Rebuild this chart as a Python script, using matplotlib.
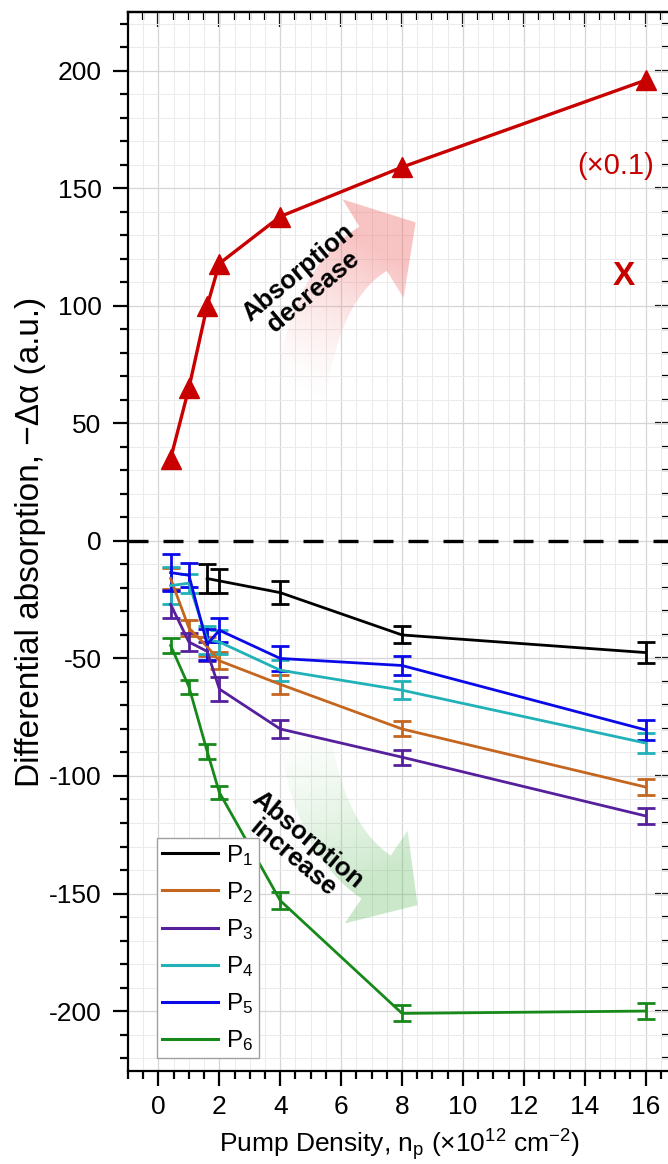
import numpy as np
import matplotlib
matplotlib.use('Agg')
import matplotlib.pyplot as plt
from matplotlib.ticker import MultipleLocator
from matplotlib.patches import Polygon
from matplotlib.lines import Line2D
from matplotlib.colors import to_rgb

plt.rcParams['font.family'] = ['Liberation Sans', 'DejaVu Sans']
plt.rcParams['mathtext.default'] = 'regular'
plt.rcParams['axes.unicode_minus'] = False

# pump densities (x1e12 cm^-2)
density = [0.4, 1, 1.6, 2, 4, 8, 16]
density_p1 = [1.6, 2, 4, 8, 16]

# peak X, scaled by 0.1
peak_x = [35, 65, 100, 118, 138, 159, 196]

# peaks P1..P6 with error bars
p1 = [-16, -17, -22, -40, -47.5]
p1_err = [6, 5, 5, 3.6, 4.4]
p2 = [-16, -37, -45, -51, -61, -80, -104.7]
p2_err = [4.3, 3.5, 4, 3.6, 4, 3.2, 3.4]
p3 = [-27, -43, -47, -63, -80, -92, -117]
p3_err = [6, 4, 4, 5, 4, 3.2, 3.5]
p4 = [-19, -18, -42, -43, -55, -63.5, -86]
p4_err = [8, 4, 6, 5, 4.5, 3.8, 4.4]
p5 = [-13.5, -14.6, -44, -38, -50, -53, -80.4]
p5_err = [8, 5, 6.5, 5, 5.3, 3.9, 4.3]
p6 = [-44.5, -62, -89.5, -107, -153, -201, -200]
p6_err = [3, 3, 3.3, 2.8, 3.5, 3.4, 3.4]

labels = ['P$_1$', 'P$_2$', 'P$_3$', 'P$_4$', 'P$_5$', 'P$_6$']
colors = ['#000000', '#C4661F', '#56209C', '#20B2B8', '#0A0AE8', '#17891A']
red = '#C80000'


def shade_arrow(ax, p0, c, p2, width, head_w, head_len, color, amax):
    '''
    Curved block arrow (quadratic bezier) filled with a fading gradient.
    Geometry is built in display space so the widths are in pixels.
    '''
    to_disp = ax.transData.transform
    P0, C, P2 = to_disp(np.array([p0, c, p2], float))
    t = np.linspace(0, 1, 80)[:, None]
    pts = (1 - t)**2 * P0 + 2 * (1 - t) * t * C + t**2 * P2
    d = 2 * (1 - t) * (C - P0) + 2 * t * (P2 - C)
    d /= np.linalg.norm(d, axis=1)[:, None]
    nrm = np.column_stack([-d[:, 1], d[:, 0]])
    left = pts + nrm * width / 2
    right = pts - nrm * width / 2
    tip = P2 + d[-1] * head_len
    hl = P2 + nrm[-1] * head_w / 2
    hr = P2 - nrm[-1] * head_w / 2
    outline = np.vstack([left, hl, tip, hr, right[::-1]])
    outline_d = ax.transData.inverted().transform(outline)
    patch = Polygon(outline_d, closed=True, facecolor='none', edgecolor='none')
    ax.add_patch(patch)

    x0, y0 = outline_d.min(0)
    x1, y1 = outline_d.max(0)
    n = 200
    gx, gy = np.meshgrid(np.linspace(x0, x1, n), np.linspace(y0, y1, n))
    disp = to_disp(np.column_stack([gx.ravel(), gy.ravel()]))
    axis = P2 - P0
    s = ((disp - P0) @ axis) / (axis @ axis)
    img = np.zeros((n, n, 4))
    img[..., :3] = to_rgb(color)
    img[..., 3] = (amax * np.clip(s, 0, 1)**1.5).reshape(n, n)
    im = ax.imshow(img, extent=(x0, x1, y0, y1), origin='lower',
                   aspect='auto', interpolation='bilinear', zorder=1)
    im.set_clip_path(patch)


fig = plt.figure(figsize=(6.68, 11.64), dpi=100)
ax = fig.add_axes([128 / 668, 93 / 1164, 542 / 668, 1059 / 1164])
ax.set_xlim(-1, 16.8)
ax.set_ylim(-225.5, 225)
ax.set_autoscale_on(False)

ax.xaxis.set_major_locator(MultipleLocator(2))
ax.xaxis.set_minor_locator(MultipleLocator(0.5))
ax.yaxis.set_major_locator(MultipleLocator(50))
ax.yaxis.set_minor_locator(MultipleLocator(10))
ax.grid(which='major', color='#d6d6d6', lw=0.9)
ax.grid(which='minor', color='#ebebeb', lw=0.7)
ax.set_axisbelow(True)

# background arrows
shade_arrow(ax, (4.65, 62), (5.14, 109), (7.05, 124.3), 52, 116, 50, '#F07070', 0.42)
shade_arrow(ax, (4.7, -72), (5.1, -125), (7.15, -143), 52, 112, 50, '#5CB85C', 0.32)

ax.axhline(0, color='k', lw=2.4, ls=(0, (6, 4.5)), zorder=2)

ax.plot(density, peak_x, '-^', color=red, lw=2.4, ms=14, zorder=5)

series = [(density_p1, p1, p1_err), (density, p2, p2_err), (density, p3, p3_err),
          (density, p4, p4_err), (density, p5, p5_err), (density, p6, p6_err)]
for (xs, ys, es), col in zip(series, colors):
    ax.errorbar(xs, ys, yerr=es, color=col, lw=2, elinewidth=2,
                capsize=6.5, capthick=2, zorder=4)

ax.text(15.03, 159.6, '(×0.1)', color=red, fontsize=21, ha='center', va='center')
ax.text(15.3, 112.3, 'X', color=red, fontsize=24, fontweight='bold',
        ha='center', va='center')

ax.text(4.85, 110, 'Absorption\ndecrease', rotation=40, fontsize=18.5,
        fontweight='bold', ha='center', va='center', ma='center',
        rotation_mode='anchor', linespacing=1.0, zorder=6)
ax.text(4.65, -131, 'Absorption\nincrease', rotation=-40, fontsize=18.5,
        fontweight='bold', ha='center', va='center', ma='center',
        rotation_mode='anchor', linespacing=1.0, zorder=6)

handles = [Line2D([], [], color=c, lw=2.2) for c in colors]
leg = ax.legend(handles, labels, loc='lower left', bbox_to_anchor=(0.0535, 0.0123),
                borderaxespad=0, fontsize=17.5, handlelength=2.3, handletextpad=0.35,
                labelspacing=0.5, borderpad=0.2, fancybox=False, framealpha=1)
leg.get_frame().set_edgecolor('#a0a0a0')
leg.get_frame().set_linewidth(1)
leg.set_zorder(7)

ax.set_xlabel('Pump Density, n$_p$ (×10$^{12}$ cm$^{-2}$)', fontsize=19, labelpad=6)
ax.set_ylabel('Differential absorption, −Δα (a.u.)', fontsize=24)
ax.yaxis.set_label_coords(-0.152, 0.5)

for sp in ax.spines.values():
    sp.set_linewidth(1.6)
ax.tick_params(which='both', direction='out', width=1.6, labelsize=19)
ax.tick_params(which='major', length=11)
ax.tick_params(which='minor', length=6)
ax.tick_params(axis='x', pad=6)
ax.tick_params(axis='y', pad=8)

# inward ticks on the top and right sides
secx = ax.secondary_xaxis('top')
secx.xaxis.set_major_locator(MultipleLocator(2))
secx.xaxis.set_minor_locator(MultipleLocator(0.5))
secx.tick_params(which='both', direction='in', width=1.6, labeltop=False)
secx.tick_params(which='major', length=11)
secx.tick_params(which='minor', length=6)
secx.spines['top'].set_linewidth(1.6)

secy = ax.secondary_yaxis('right')
secy.yaxis.set_major_locator(MultipleLocator(50))
secy.yaxis.set_minor_locator(MultipleLocator(10))
secy.tick_params(which='both', direction='in', width=1.6, labelright=False)
secy.tick_params(which='major', length=11)
secy.tick_params(which='minor', length=6)

fig.savefig('out.png', dpi=100)
